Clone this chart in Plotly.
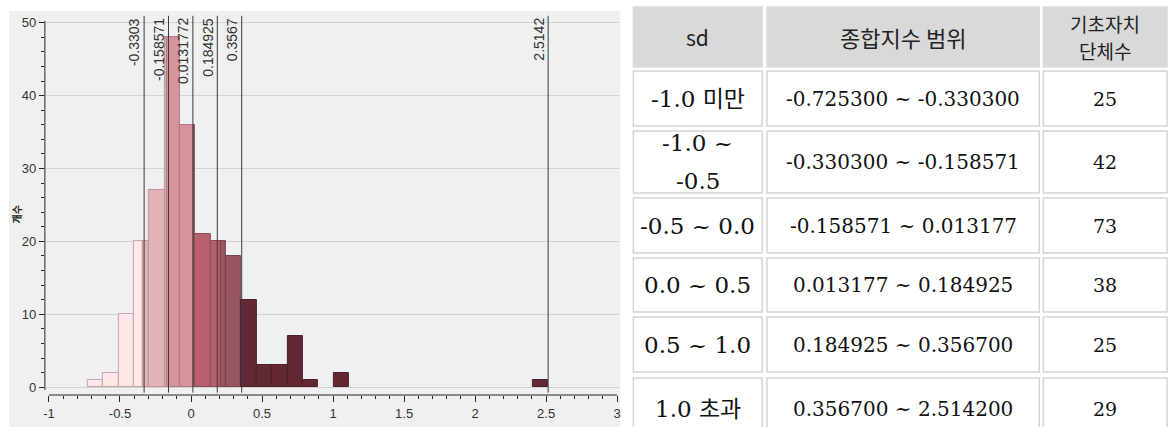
import plotly.graph_objects as go

# ---------------- data ----------------
cut_values = [-0.3303, -0.158571, 0.0131772, 0.184925, 0.3567, 2.5142]
cut_labels = ["-0.3303", "-0.158571", "0.0131772", "0.184925", "0.3567", "2.5142"]

bin_min = -0.7253
bin_max = 2.5142
bin_count = 30

# histogram counts per bin (bin index -> count), one dict per sd group
group1_bins = {0: 1, 1: 2, 2: 10, 3: 12}
group2_bins = {3: 8, 4: 27, 5: 7}
group3_bins = {5: 41, 6: 32}
group4_bins = {6: 4, 7: 21, 8: 13}
group5_bins = {8: 7, 9: 18}
group6_bins = {10: 12, 11: 3, 12: 3, 13: 7, 14: 1, 16: 2, 29: 1}

x_tick_values = [-1, -0.5, 0, 0.5, 1, 1.5, 2, 2.5, 3]
x_tick_labels = ["-1", "-0.5", "0", "0.5", "1", "1.5", "2", "2.5", "3"]
y_tick_values = [0, 10, 20, 30, 40, 50]
y_tick_labels = ["0", "10", "20", "30", "40", "50"]
y_axis_title = "개수"

table_header = ["sd", "종합지수 범위", "기초자치<br>단체수"]
sd_labels = ["-1.0 미만", "-1.0 ~<br>-0.5", "-0.5 ~ 0.0", "0.0 ~ 0.5", "0.5 ~ 1.0", "1.0 초과"]
range_labels = ["-0.725300 ~ -0.330300", "-0.330300 ~ -0.158571",
                "-0.158571 ~ 0.013177", "0.013177 ~ 0.184925",
                "0.184925 ~ 0.356700", "0.356700 ~ 2.514200"]
unit_counts = [25, 42, 73, 38, 25, 29]

# ---------------- style ----------------
W, H = 1171, 427
group_colors = ["#FFE6E7", "#E2B3BA", "#D5939B", "#B5606C", "#985563", "#622833"]
group_lines = ["#C4A6A9", "#BF949A", "#B07A81", "#8E4A54", "#7A434D", "#4D1F28"]
SERIF = "DejaVu Serif, Noto Sans CJK KR"
SANS_KR = "Noto Sans CJK KR"
AXFONT = "Liberation Sans"


def px(x):
    return x / W


def py(y):
    return 1 - y / H


# plot area in pixels
PL, PR, PT, PB = 43, 619, 15, 395
X_LO, X_HI = -1.0288, 3.016
Y_LO, Y_HI = -1.07, 51.06

fig = go.Figure()

# ---- histogram strips (each bin split proportionally among groups) ----
groups = [group1_bins, group2_bins, group3_bins, group4_bins, group5_bins, group6_bins]
bin_w = (bin_max - bin_min) / bin_count
totals = {}
for g in groups:
    for b, c in g.items():
        totals[b] = totals.get(b, 0) + c
offsets = {b: 0.0 for b in totals}
for gi, g in enumerate(groups):
    xs, ws, ys = [], [], []
    for b in sorted(g):
        frac = g[b] / totals[b]
        left = bin_min + b * bin_w + offsets[b] * bin_w
        w = frac * bin_w
        offsets[b] += frac
        xs.append(left + w / 2)
        ws.append(w)
        ys.append(totals[b])
    fig.add_trace(go.Bar(
        x=xs, y=ys, width=ws, name=sd_labels[gi].replace("<br>", " "),
        marker=dict(color=group_colors[gi], line=dict(color=group_lines[gi], width=1)),
        showlegend=False, hoverinfo="skip",
    ))

shapes = []
annotations = []

# grey panel behind the histogram
shapes.append(dict(type="rect", xref="paper", yref="paper", x0=px(7), x1=px(620),
                   y0=0, y1=py(11), fillcolor="#F0F0F0", line=dict(width=0), layer="below"))

# axis lines (JMP style, detached)
shapes.append(dict(type="line", xref="x domain", yref="y", x0=0, x1=0, y0=-0.4, y1=50.25,
                   line=dict(color="#222222", width=1)))
shapes.append(dict(type="line", xref="x", yref="y domain", x0=-1, x1=3, y0=0, y1=0,
                   line=dict(color="#222222", width=1)))

# reference lines with rotated labels
for v, lab in zip(cut_values, cut_labels):
    shapes.append(dict(type="line", xref="x", yref="y", x0=v, x1=v, y0=-0.75, y1=50.95,
                       line=dict(color="#3A3A3A", width=1)))
    annotations.append(dict(x=v, xref="x", y=py(16), yref="paper", text=lab,
                            textangle=-90, xanchor="right", yanchor="top", showarrow=False,
                            xshift=0, font=dict(family=AXFONT, size=14, color="#333333")))

# y axis title
annotations.append(dict(x=px(14), y=py(214), xref="paper", yref="paper", text="<b>" + y_axis_title + "</b>",
                        textangle=-90, showarrow=False, xshift=-9,
                        font=dict(family=SANS_KR, size=10, color="#222222")))

# ---------------- table ----------------
col_edges = [(633, 762), (767, 1040), (1044, 1168)]
row_edges = [(7, 67), (71, 126), (131, 193), (198, 253), (258, 312), (317, 372), (378, 440)]

table_rows = [table_header] + [[s, r, str(c)] for s, r, c in zip(sd_labels, range_labels, unit_counts)]

for ri, (y0, y1) in enumerate(row_edges):
    for ci, (x0, x1) in enumerate(col_edges):
        header = ri == 0
        shapes.append(dict(type="rect", xref="paper", yref="paper",
                           x0=px(x0), x1=px(x1), y0=py(y1), y1=py(y0),
                           fillcolor="#D9D9D9" if header else "#FFFFFF",
                           line=dict(color="#DADADA" if header else "#D4D4D4", width=1.5)))
        text = table_rows[ri][ci]
        if header:
            size = [21, 22, 19][ci]
            fam, col = SANS_KR, "#222222"
            gap = 27
        else:
            size = [23, 20, 19][ci]
            fam, col = SERIF, "#111111"
            gap = 39
        lines = text.split("<br>")
        cx = (x0 + x1) / 2
        cy = (y0 + y1) / 2
        n = len(lines)
        for li, t in enumerate(lines):
            yy = cy + (li - (n - 1) / 2) * gap
            annotations.append(dict(x=px(cx), y=py(yy), xref="paper", yref="paper", text=t,
                                    showarrow=False, xanchor="center", yanchor="middle",
                                    font=dict(family=fam, size=size, color=col)))

fig.update_layout(
    width=W, height=H,
    margin=dict(l=0, r=0, t=0, b=0),
    paper_bgcolor="#FFFFFF",
    plot_bgcolor="rgba(0,0,0,0)",
    barmode="overlay",
    bargap=0,
    shapes=shapes,
    annotations=annotations,
    xaxis=dict(domain=[px(PL), px(PR)], range=[X_LO, X_HI], showgrid=False, zeroline=False,
               tickmode="array", tickvals=x_tick_values, ticktext=x_tick_labels,
               ticks="outside", ticklen=6, tickcolor="#222222", tickwidth=1,
               minor=dict(dtick=0.1, tick0=0, ticks="outside", ticklen=3, tickcolor="#222222", showgrid=False),
               tickfont=dict(family=AXFONT, size=13, color="#333333"), showline=False),
    yaxis=dict(domain=[py(PB), py(PT)], range=[Y_LO, Y_HI], showgrid=True, gridcolor="#D2D2D2",
               gridwidth=1, zeroline=False,
               tickmode="array", tickvals=y_tick_values, ticktext=y_tick_labels,
               ticks="outside", ticklen=5, tickcolor="#222222", tickwidth=1,
               minor=dict(dtick=2, tick0=0, ticks="outside", ticklen=3, tickcolor="#222222", showgrid=False),
               tickfont=dict(family=AXFONT, size=13, color="#333333"), showline=False),
)

fig.write_html("out.html", config={"displayModeBar": False},
               post_script="document.body.style.margin='0';document.body.style.overflow='hidden';")
